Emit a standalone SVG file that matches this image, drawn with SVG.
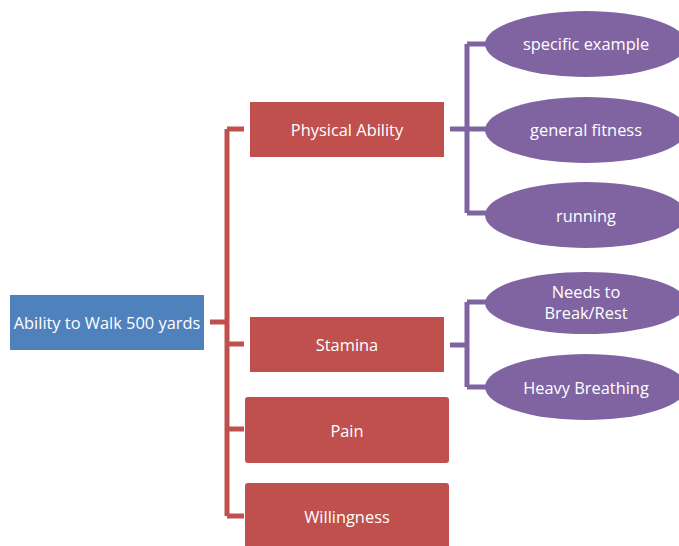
<svg xmlns="http://www.w3.org/2000/svg" width="679" height="546" viewBox="0 0 679 546">
  <style>
    .lbl { font-family: "Open Sans", "Liberation Sans", sans-serif; font-size: 16.4px; fill: #ffffff; text-anchor: middle; dominant-baseline: central; }
    .red { fill: #C0504D; }
    .blue { fill: #4F81BD; }
    .purple { fill: #8064A2; }
    .conn-red { stroke: #C0504D; stroke-width: 5; fill: none; }
    .conn-purple { stroke: #8064A2; stroke-width: 5; fill: none; }
  </style>
  <rect width="679" height="546" fill="#ffffff"/>

  <g id="connectors">
    <!-- root to second level -->
    <path class="conn-red" d="M210 322 H227 M227 129 V516 M227 129 H244 M227 344 H244 M227 429 H244 M227 516 H244"/>
    <!-- Physical Ability to its details -->
    <path class="conn-purple" d="M450 129 H467 M467 44 V213 M467 44 H486 M467 129 H486 M467 213 H486"/>
    <!-- Stamina to its details -->
    <path class="conn-purple" d="M450 345 H467 M467 302 V387 M467 302 H486 M467 387 H486"/>
  </g>

  <g id="root">
    <rect class="blue" x="10" y="295" width="194" height="55"/>
    <text class="lbl" x="107" y="322">Ability to Walk 500 yards</text>
  </g>

  <g id="physical-ability">
    <rect class="red" x="250" y="102" width="194" height="55"/>
    <text class="lbl" x="347" y="129">Physical Ability</text>
  </g>

  <g id="stamina">
    <rect class="red" x="250" y="317" width="194" height="55"/>
    <text class="lbl" x="347" y="344">Stamina</text>
  </g>

  <g id="pain">
    <rect class="red" x="245" y="397" width="204" height="66" rx="3"/>
    <text class="lbl" x="347" y="430">Pain</text>
  </g>

  <g id="willingness">
    <rect class="red" x="245" y="483" width="204" height="66" rx="3"/>
    <text class="lbl" x="347" y="516">Willingness</text>
  </g>

  <g id="specific-example">
    <ellipse class="purple" cx="586" cy="44" rx="101" ry="33"/>
    <text class="lbl" x="586" y="43">specific example</text>
  </g>

  <g id="general-fitness">
    <ellipse class="purple" cx="586" cy="130" rx="101" ry="33"/>
    <text class="lbl" x="586" y="129">general fitness</text>
  </g>

  <g id="running">
    <ellipse class="purple" cx="586" cy="215" rx="101" ry="33"/>
    <text class="lbl" x="586" y="215">running</text>
  </g>

  <g id="needs-to-break">
    <ellipse class="purple" cx="586" cy="303" rx="101" ry="31"/>
    <text class="lbl" x="586" y="291">Needs to</text>
    <text class="lbl" x="586" y="312">Break/Rest</text>
  </g>

  <g id="heavy-breathing">
    <ellipse class="purple" cx="586" cy="387" rx="101" ry="33"/>
    <text class="lbl" x="586" y="387">Heavy Breathing</text>
  </g>
</svg>
